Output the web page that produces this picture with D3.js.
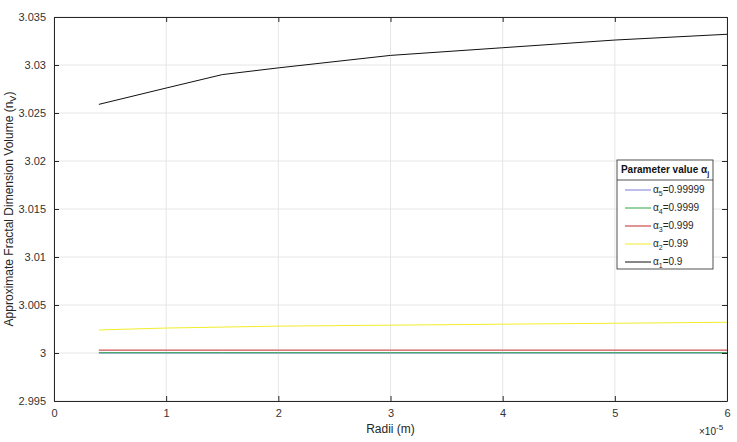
<!DOCTYPE html>
<html>
<head>
<meta charset="utf-8">
<style>
  body { margin: 0; background: #fff; }
  svg { font-family: "Liberation Sans", Arial, sans-serif; }
  .grid line { stroke: #e6e6e6; }
</style>
</head>
<body>
<svg id="chart" width="737" height="442"></svg>
<script src="https://cdnjs.cloudflare.com/ajax/libs/d3/7.8.5/d3.min.js"></script>
<script>
// radii in units of 1e-5 m
var radii = [0.4, 1, 1.5, 2, 3, 4, 5, 6];
var alpha1 = [3.0259, 3.0276, 3.0290, 3.0297, 3.0310, 3.0318, 3.0326, 3.0332];
var alpha2 = [3.0024, 3.0026, 3.0027, 3.0028, 3.0029, 3.0030, 3.0031, 3.0032];
var alpha3 = [3.0003, 3.0003, 3.0003, 3.0003, 3.0003, 3.0003, 3.0003, 3.0003];
var alpha4 = [3.00003, 3.00003, 3.00003, 3.00003, 3.00003, 3.00003, 3.00003, 3.00003];
var alpha5 = [3.0000, 3.0000, 3.0000, 3.0000, 3.0000, 3.0000, 3.0000, 3.0000];
var xTicks = [0, 1, 2, 3, 4, 5, 6];
var yTicks = [2.995, 3, 3.005, 3.01, 3.015, 3.02, 3.025, 3.03, 3.035];

var series = [
  { sub: "5", val: "0.99999", color: "#7b7bdc", data: alpha5 },
  { sub: "4", val: "0.9999", color: "#2ea84a", data: alpha4 },
  { sub: "3", val: "0.999", color: "#c0282a", data: alpha3 },
  { sub: "2", val: "0.99", color: "#f2ee2a", data: alpha2 },
  { sub: "1", val: "0.9", color: "#111111", data: alpha1 }
];

var svg = d3.select("#chart");
var pLeft = 54, pRight = 727, pTop = 17, pBottom = 401;

var x = d3.scaleLinear().domain([0, 6]).range([pLeft, pRight]);
var y = d3.scaleLinear().domain([2.995, 3.035]).range([pBottom, pTop]);

// grid
var g = svg.append("g").attr("class", "grid");
g.selectAll(".gx").data(xTicks).enter().append("line")
  .attr("x1", d => x(d)).attr("x2", d => x(d)).attr("y1", pTop).attr("y2", pBottom);
g.selectAll(".gy").data(yTicks).enter().append("line")
  .attr("x1", pLeft).attr("x2", pRight).attr("y1", d => y(d)).attr("y2", d => y(d));

// lines; plotting order 5,4,3,2,1 so green covers blue near 3
var line = d3.line().x((d, i) => x(radii[i])).y(d => y(d));
series.forEach(function (s) {
  svg.append("path").datum(s.data)
    .attr("d", line).attr("fill", "none")
    .attr("stroke", s.color).attr("stroke-width", 1);
});

// axes
var xAxis = d3.axisBottom(x).tickValues(xTicks).tickFormat(d3.format("d")).tickSizeInner(-5).tickSizeOuter(0).tickPadding(8);
var yAxis = d3.axisLeft(y).tickValues(yTicks).tickFormat(d => d === 3 ? "3" : d3.format(".3~f")(d)).tickSizeInner(-5).tickSizeOuter(0).tickPadding(8);

var xa = svg.append("g").attr("transform", "translate(0," + pBottom + ")").call(xAxis);
var ya = svg.append("g").attr("transform", "translate(" + pLeft + ",0)").call(yAxis);
var xTop = svg.append("g").attr("transform", "translate(0," + pTop + ")")
  .call(d3.axisTop(x).tickValues(xTicks).tickFormat("").tickSizeInner(-5).tickSizeOuter(0));
var yRight = svg.append("g").attr("transform", "translate(" + pRight + ",0)")
  .call(d3.axisRight(y).tickValues(yTicks).tickFormat("").tickSizeInner(-5).tickSizeOuter(0));
[xa, ya, xTop, yRight].forEach(function (a) {
  a.selectAll("path").attr("stroke", "#262626");
  a.selectAll("line").attr("stroke", "#262626");
  a.selectAll("text").attr("fill", "#333").style("font-size", "11px").style("font-family", "Liberation Sans, Arial, sans-serif");
});

// axis labels
svg.append("text").attr("x", (pLeft + pRight) / 2).attr("y", 433)
  .attr("text-anchor", "middle").attr("fill", "#262626").style("font-size", "12px").text("Radii (m)");
svg.append("text").attr("x", 699).attr("y", 435).attr("fill", "#262626").style("font-size", "10px")
  .text("\u00d710").append("tspan").attr("dy", -5).style("font-size", "8px").text("-5");

var yl = svg.append("text").attr("transform", "translate(13," + ((pTop + pBottom) / 2) + ") rotate(-90)")
  .attr("text-anchor", "middle").attr("fill", "#262626").style("font-size", "12px");
yl.append("tspan").text("Approximate Fractal Dimension Volume (n");
yl.append("tspan").attr("dy", 3).style("font-size", "9px").text("V");
yl.append("tspan").attr("dy", -3).text(")");

// legend
var lx = 617, ly = 160, lw = 96, lh = 109;
var leg = svg.append("g");
leg.append("rect").attr("x", lx).attr("y", ly).attr("width", lw).attr("height", lh)
  .attr("fill", "#fff").attr("stroke", "#262626").attr("stroke-width", 0.8);
leg.append("line").attr("x1", lx).attr("x2", lx + lw).attr("y1", ly + 20).attr("y2", ly + 20)
  .attr("stroke", "#262626").attr("stroke-width", 0.8);
var tt = leg.append("text").attr("x", lx + lw / 2).attr("y", ly + 13).attr("text-anchor", "middle")
  .attr("fill", "#111").style("font-size", "10px").style("font-weight", "bold");
tt.append("tspan").text("Parameter value \u03b1");
tt.append("tspan").attr("dy", 3).style("font-size", "7px").text("j");

var rows = leg.selectAll(".row").data(series).enter().append("g")
  .attr("transform", (d, i) => "translate(0," + (ly + 30 + i * 18) + ")");
rows.append("line").attr("x1", lx + 8).attr("x2", lx + 34).attr("y1", 0).attr("y2", 0)
  .attr("stroke", d => d.color).attr("stroke-width", 1);
var rt = rows.append("text").attr("x", lx + 36).attr("y", 3).attr("fill", "#262626").style("font-size", "10px");
rt.append("tspan").text("\u03b1");
rt.append("tspan").attr("dy", 3).style("font-size", "7px").text(d => d.sub);
rt.append("tspan").attr("dy", -3).text(d => "=" + d.val);
</script>
</body>
</html>
